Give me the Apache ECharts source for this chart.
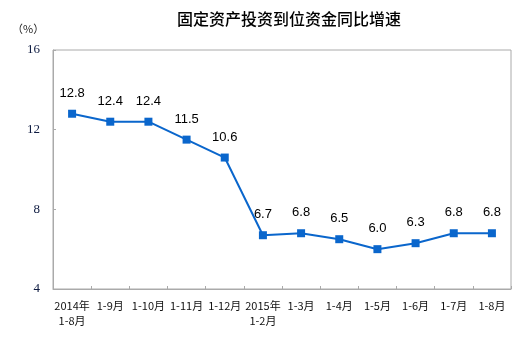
<!DOCTYPE html>
<html>
<head>
<meta charset="utf-8">
<script src="https://cdn.jsdelivr.net/npm/echarts@6/dist/echarts.min.js"></script>
<style>html,body{margin:0;padding:0;background:#fff}#c{width:530px;height:344px}</style>
</head>
<body>
<div id="c"></div>
<script>
const categories = ['2014年\n1-8月','1-9月','1-10月','1-11月','1-12月','2015年\n1-2月','1-3月','1-4月','1-5月','1-6月','1-7月','1-8月'];
const values = [12.8, 12.4, 12.4, 11.5, 10.6, 6.7, 6.8, 6.5, 6.0, 6.3, 6.8, 6.8];
const yTicks = { min: 4, max: 16, interval: 4 };

const chart = echarts.init(document.getElementById('c'), null, { renderer: 'canvas' });
chart.setOption({
  animation: false,
  backgroundColor: '#fff',
  title: {
    text: '固定资产投资到位资金同比增速',
    left: 284, top: 6, textAlign: 'center',
    textStyle: { fontFamily: 'Noto Sans CJK SC', fontSize: 16, fontWeight: 500, color: '#000' }
  },
  graphic: [{
    type: 'text', left: 12, top: 23,
    style: { text: '（%）', fontFamily: 'Noto Sans CJK SC', fontSize: 11, fill: '#222' }
  }],
  grid: { left: 53, right: 19, top: 50, bottom: 55, show: true, borderColor: '#aaa', borderWidth: 1 },
  xAxis: {
    type: 'category', data: categories, boundaryGap: true,
    axisLine: { lineStyle: { color: '#aaa' } },
    axisTick: { show: true, inside: true, length: 3, lineStyle: { color: '#aaa' }, alignWithLabel: false },
    axisLabel: { interval: 0, margin: 9, fontFamily: 'Noto Sans CJK SC', fontSize: 11, color: '#111', lineHeight: 15 }
  },
  yAxis: {
    type: 'value', min: yTicks.min, max: yTicks.max, interval: yTicks.interval,
    splitLine: { show: false },
    axisLine: { show: true, lineStyle: { color: '#aaa' } },
    axisTick: { show: true, inside: true, length: 3, lineStyle: { color: '#aaa' } },
    axisLabel: { margin: 13, fontFamily: 'Liberation Serif', fontSize: 13, color: '#0d1a40' }
  },
  series: [{
    type: 'line', data: values,
    symbol: 'rect', symbolSize: 8,
    lineStyle: { color: '#0a66cc', width: 2 },
    itemStyle: { color: '#0a66cc' },
    label: {
      show: true, position: 'top', distance: 10,
      formatter: p => p.value.toFixed(1),
      fontFamily: 'Liberation Sans', fontSize: 13, color: '#000'
    }
  }]
});
</script>
</body>
</html>
